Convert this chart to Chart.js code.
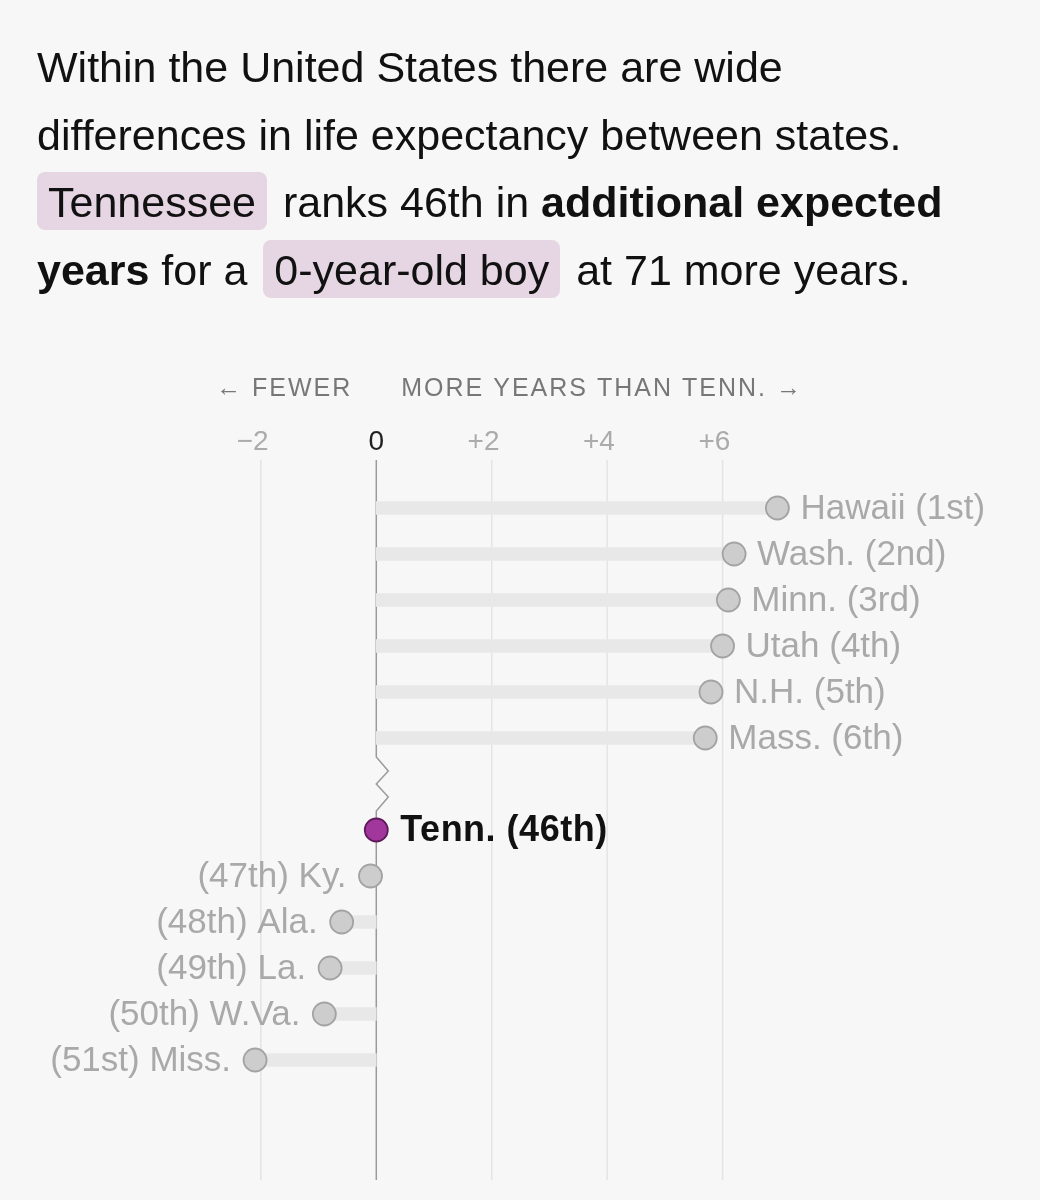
<!DOCTYPE html>
<html>
<head>
<meta charset="utf-8">
<script src="https://cdn.jsdelivr.net/npm/chart.js@4.4.0/dist/chart.umd.min.js"></script>
<style>
    body { margin: 0; background: #f7f7f7; }
    #wrap { position: relative; width: 1040px; height: 1200px; }
    #intro {
        position: absolute; left: 37px; top: 34px; width: 1000px;
        font-family: "Liberation Sans", Arial, sans-serif; font-size: 43px;
        line-height: 67.5px; color: #111; white-space: nowrap;
    }
    .hl { background: #e6d6e3; border-radius: 8px; padding: 6px 11px 4px 11px; }
    canvas { position: absolute; left: 0; top: 0; }
</style>
</head>
<body>
<div id="wrap">
    <canvas id="chart" width="1040" height="1200"></canvas>
    <div id="intro">
        Within the United States there are wide<br>
        differences in life expectancy between states.<br>
        <span class="hl" style="margin-right:4px">Tennessee</span> ranks 46th in <b>additional expected</b><br>
        <b>years</b> for a <span class="hl" style="margin:0 4px">0-year-old boy</span> at 71 more years.
    </div>
</div>
<script>
// Datos (años de diferencia respecto a Tennessee)
const states = ["Hawaii (1st)", "Wash. (2nd)", "Minn. (3rd)", "Utah (4th)", "N.H. (5th)", "Mass. (6th)", "",
    "Tenn. (46th)", "(47th) Ky.", "(48th) Ala.", "(49th) La.", "(50th) W.Va.", "(51st) Miss."];
const yearsMore = [6.95, 6.2, 6.1, 6.0, 5.8, 5.7, null, 0, -0.1, -0.6, -0.8, -0.9, -2.1];
const tickValues = [-2, 0, 2, 4, 6];
const tickLabels = ["−2", "0", "+2", "+4", "+6"];
const highlight = "Tenn. (46th)";
const fewerLabel = "← FEWER";
const moreLabel = "MORE YEARS THAN TENN. →";

const FONT = '"Liberation Sans", Arial, sans-serif';
const breakIndex = yearsMore.indexOf(null);

const decor = {
    id: "decor",
    beforeDatasetsDraw(chart) {
        const ctx = chart.ctx;
        const x = chart.scales.x;
        const y = chart.scales.y;
        const top = 460, bottom = 1180;
        const x0 = x.getPixelForValue(0);
        ctx.save();

        // lineas de la cuadricula
        ctx.lineWidth = 1.5;
        ctx.strokeStyle = "#e4e4e4";
        tickValues.forEach((v) => {
            if (v === 0) return;
            const px = x.getPixelForValue(v);
            ctx.beginPath();
            ctx.moveTo(px, top);
            ctx.lineTo(px, bottom);
            ctx.stroke();
        });

        // linea del cero con corte en zigzag
        const b = y.getPixelForValue(breakIndex);
        ctx.strokeStyle = "#9a9a9a";
        ctx.beginPath();
        ctx.moveTo(x0, top);
        ctx.lineTo(x0, b - 27);
        ctx.lineTo(x0 + 12, b - 13);
        ctx.lineTo(x0, b);
        ctx.lineTo(x0 + 12, b + 13);
        ctx.lineTo(x0, b + 27);
        ctx.lineTo(x0, bottom);
        ctx.stroke();

        // etiquetas de los ticks
        ctx.font = "28px " + FONT;
        ctx.textBaseline = "middle";
        tickValues.forEach((v, i) => {
            const px = x.getPixelForValue(v);
            const lbl = tickLabels[i];
            const digits = lbl.replace(/[−+]/, "");
            const sign = lbl.slice(0, lbl.length - digits.length);
            ctx.fillStyle = v === 0 ? "#222" : "#ababab";
            ctx.textAlign = "center";
            ctx.fillText(digits, px, 442);
            if (sign) {
                ctx.textAlign = "right";
                ctx.fillText(sign, px - ctx.measureText(digits).width / 2, 442);
            }
        });

        // encabezado
        ctx.font = "25px " + FONT;
        ctx.letterSpacing = "2px";
        ctx.fillStyle = "#777";
        ctx.textAlign = "right";
        ctx.fillText(fewerLabel, x0 - 24, 389);
        ctx.textAlign = "left";
        ctx.fillText(moreLabel, x0 + 25, 389);
        ctx.restore();
    },
    afterDatasetsDraw(chart) {
        const ctx = chart.ctx;
        const meta = chart.getDatasetMeta(0);
        ctx.save();
        ctx.textBaseline = "middle";
        states.forEach((name, i) => {
            const v = yearsMore[i];
            if (v === null) return;
            const pt = meta.data[i];
            if (name === highlight) {
                ctx.font = "bold 36px " + FONT;
                ctx.letterSpacing = "0.5px";
                ctx.fillStyle = "#111";
                ctx.textAlign = "left";
                ctx.fillText(name, pt.x + 24, pt.y + 1);
                ctx.letterSpacing = "0px";
                return;
            }
            ctx.font = "35px " + FONT;
            ctx.fillStyle = "#a9a9a9";
            if (v > 0) {
                ctx.textAlign = "left";
                ctx.fillText(name, pt.x + 23, pt.y + 1);
            } else {
                ctx.textAlign = "right";
                ctx.fillText(name, pt.x - 24, pt.y + 1);
            }
        });
        ctx.restore();
    }
};

new Chart(document.getElementById("chart"), {
    type: "bar",
    data: {
        labels: states,
        datasets: [{
            type: "line",
            indexAxis: "y",
            data: yearsMore,
            showLine: false,
            pointRadius: 11.5,
            pointHoverRadius: 11.5,
            pointBorderWidth: 1.8,
            pointBackgroundColor: states.map((s) => s === highlight ? "#a1379c" : "#cdcdcd"),
            pointBorderColor: states.map((s) => s === highlight ? "#5e1a5a" : "#a3a3a3"),
            order: 0
        }, {
            type: "bar",
            data: yearsMore,
            backgroundColor: "#e8e8e8",
            barThickness: 13,
            order: 1
        }]
    },
    options: {
        indexAxis: "y",
        responsive: false,
        animation: false,
        layout: { autoPadding: false, padding: { top: 485, bottom: 117, left: 0, right: 0 } },
        scales: {
            x: { type: "linear", min: -6.52, max: 11.5, display: false },
            y: { type: "category", labels: states, offset: true, display: false }
        },
        plugins: {
            legend: { display: false },
            tooltip: { enabled: false }
        },
        events: []
    },
    plugins: [decor]
});
</script>
</body>
</html>
